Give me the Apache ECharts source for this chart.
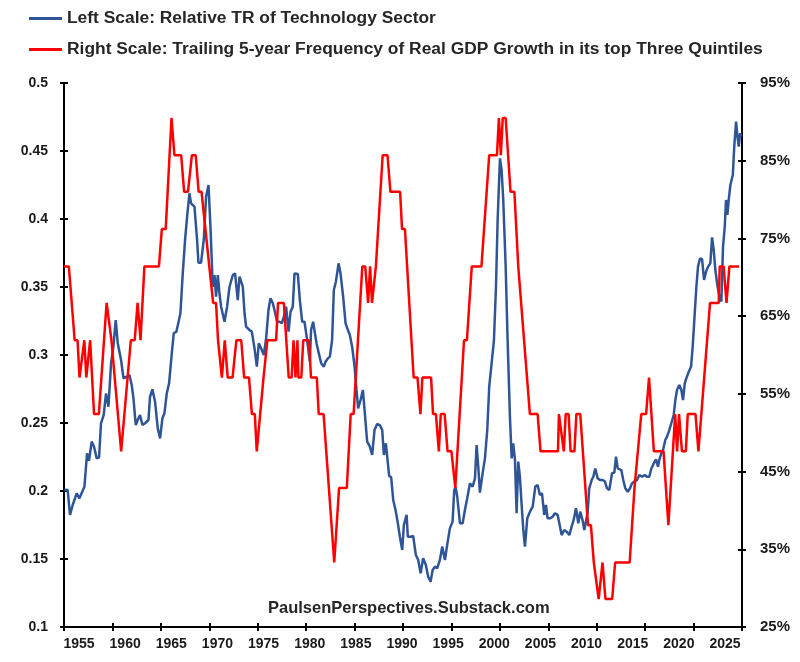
<!DOCTYPE html>
<html>
<head>
<meta charset="utf-8">
<script src="https://cdn.jsdelivr.net/npm/echarts@6/dist/echarts.min.js"></script>
<style>
html,body{margin:0;padding:0;background:#fff;}
#chart{width:800px;height:662px;}
</style>
</head>
<body>
<div id="chart"></div>
<script>
// ---- Data ----
const techName = 'Left Scale: Relative TR of Technology Sector';
const gdpName = 'Right Scale: Trailing 5-year Frequency of Real GDP Growth in its top Three Quintiles';
const watermark = 'PaulsenPerspectives.Substack.com';

const yearTicks = [1955, 2025, 5];        // x axis min, max, step
const leftTicks = [0.1, 0.5, 0.05];       // left axis min, max, step
const rightTicks = [25, 95, 10];          // right axis min, max, step (%)

const techYears = [
1955.03,1955.38,1955.62,1955.90,1956.31,1956.59,1957.11,1957.38,1957.58,1957.86,
1958.10,1958.38,1958.62,1958.82,1959.10,1959.34,1959.59,1959.86,1960.10,1960.34,
1960.55,1960.89,1961.14,1961.48,1961.76,1961.99,1962.17,1962.41,1962.61,1962.85,
1963.10,1963.37,1963.72,1963.88,1964.13,1964.40,1964.68,1964.92,1965.16,1965.37,
1965.61,1965.85,1966.13,1966.33,1966.61,1966.75,1967.02,1967.26,1967.50,1967.71,
1967.95,1968.12,1968.29,1968.47,1968.74,1968.88,1969.15,1969.43,1969.67,1969.92,
1970.12,1970.36,1970.54,1970.70,1970.88,1971.05,1971.22,1971.57,1971.84,1972.09,
1972.43,1972.66,1972.94,1973.12,1973.28,1973.46,1973.64,1973.80,1974.15,1974.39,
1974.67,1974.91,1975.11,1975.35,1975.63,1975.87,1976.11,1976.32,1976.56,1976.73,
1977.00,1977.25,1977.49,1977.70,1977.93,1978.18,1978.39,1978.62,1978.80,1979.14,
1979.35,1979.59,1979.83,1980.10,1980.38,1980.51,1980.72,1980.87,1981.07,1981.31,
1981.55,1981.83,1982.00,1982.24,1982.45,1982.68,1982.86,1983.07,1983.35,1983.55,
1983.82,1984.07,1984.31,1984.51,1984.75,1985.00,1985.20,1985.37,1985.62,1985.86,
1986.06,1986.30,1986.58,1986.82,1987.06,1987.33,1987.61,1987.85,1988.03,1988.23,
1988.37,1988.57,1988.78,1988.99,1989.23,1989.47,1989.68,1989.92,1990.09,1990.37,
1990.50,1990.78,1991.05,1991.33,1991.57,1991.82,1992.08,1992.36,1992.60,1992.85,
1993.06,1993.30,1993.53,1993.81,1994.05,1994.33,1994.56,1994.84,1995.12,1995.29,
1995.43,1995.60,1995.88,1996.16,1996.39,1996.63,1996.91,1997.19,1997.43,1997.60,
1997.77,1997.94,1998.22,1998.46,1998.70,1998.90,1999.15,1999.39,1999.60,1999.77,
2000.01,2000.18,2000.35,2000.60,2000.80,2001.04,2001.22,2001.38,2001.56,2001.73,
2001.90,2002.07,2002.25,2002.41,2002.59,2002.83,2003.11,2003.39,2003.66,2003.90,
2004.14,2004.35,2004.58,2004.76,2004.93,2005.17,2005.45,2005.69,2005.97,2006.13,
2006.38,2006.65,2006.90,2007.17,2007.41,2007.62,2007.86,2008.10,2008.30,2008.55,
2008.72,2008.89,2009.07,2009.23,2009.48,2009.65,2009.85,2010.10,2010.34,2010.62,
2010.85,2011.06,2011.30,2011.58,2011.82,2011.99,2012.17,2012.33,2012.54,2012.74,
2012.95,2013.20,2013.44,2013.64,2013.88,2014.16,2014.40,2014.68,2014.96,2015.19,
2015.43,2015.64,2015.89,2016.12,2016.33,2016.46,2016.67,2016.85,2017.08,2017.26,
2017.50,2017.70,2017.95,2018.12,2018.29,2018.53,2018.74,2018.91,2019.09,2019.25,
2019.50,2019.74,2019.91,2020.12,2020.29,2020.46,2020.67,2020.88,2021.08,2021.29,
2021.50,2021.73,2021.91,2022.08,2022.25,2022.45,2022.66,2022.87,2023.04,2023.22,
2023.35,2023.49,2023.63,2023.80,2024.05,2024.21,2024.39,2024.53,2024.67,2024.80,
2024.93];

const techTR = [
0.201,0.2007,0.1824,0.1897,0.1983,0.1946,0.2032,0.2277,0.2221,0.2363,
0.2326,0.224,0.2248,0.2498,0.2559,0.2718,0.262,0.2939,0.3061,0.3257,
0.3086,0.2963,0.2829,0.284,0.2853,0.278,0.2682,0.2485,0.2522,0.2559,
0.2485,0.2498,0.2522,0.2693,0.2748,0.2657,0.2461,0.2387,0.2535,0.2571,
0.2718,0.2792,0.3013,0.316,0.3172,0.3184,0.3307,0.36,0.3846,0.4017,
0.4189,0.4115,0.4127,0.4091,0.3846,0.3679,0.3679,0.3846,0.4164,0.425,
0.3944,0.3502,0.3588,0.3429,0.3588,0.3454,0.3355,0.3245,0.3355,0.3502,
0.3588,0.36,0.3404,0.3576,0.3581,0.3502,0.3307,0.3208,0.3184,0.3172,
0.3049,0.2914,0.3086,0.3049,0.3,0.3123,0.3331,0.3417,0.338,0.3331,
0.3245,0.3245,0.3233,0.3282,0.3355,0.3172,0.3319,0.3355,0.36,0.3596,
0.3404,0.3245,0.3245,0.311,0.2951,0.3184,0.3245,0.3245,0.3086,0.3012,
0.2939,0.2914,0.2951,0.2975,0.2988,0.311,0.3478,0.3539,0.3674,0.36,
0.3429,0.3233,0.3184,0.3147,0.3061,0.2914,0.2743,0.2608,0.2669,0.2743,
0.2571,0.2363,0.2326,0.2265,0.2449,0.2493,0.2485,0.2449,0.2265,0.2351,
0.2253,0.2111,0.2101,0.1934,0.186,0.1762,0.1664,0.1566,0.175,0.1824,
0.1664,0.1664,0.1669,0.1529,0.1493,0.1395,0.1505,0.1456,0.137,0.1333,
0.1419,0.1444,0.1432,0.1493,0.1591,0.1493,0.1603,0.1725,0.1775,0.2007,
0.2027,0.1958,0.1762,0.1762,0.186,0.1946,0.2056,0.2032,0.2093,0.2338,
0.2179,0.1988,0.213,0.224,0.2449,0.2767,0.2939,0.311,0.3502,0.3993,
0.4446,0.436,0.414,0.365,0.311,0.2547,0.224,0.235,0.2228,0.1836,
0.2216,0.2105,0.1897,0.1725,0.1591,0.1799,0.1848,0.1885,0.2032,0.2044,
0.1971,0.1983,0.1824,0.1897,0.1799,0.1799,0.1811,0.1836,0.1824,0.1811,
0.1676,0.1713,0.1701,0.1676,0.1738,0.1787,0.1873,0.1762,0.1848,0.1782,
0.1713,0.1775,0.1848,0.202,0.2081,0.2105,0.2166,0.2093,0.2081,0.2081,
0.2069,0.202,0.2007,0.213,0.2135,0.2253,0.2166,0.2166,0.2154,0.2081,
0.202,0.1995,0.202,0.2056,0.2069,0.2081,0.2118,0.2105,0.2118,0.2105,
0.2105,0.2166,0.2203,0.2233,0.2179,0.2228,0.2277,0.2302,0.2375,0.24,
0.2449,0.2498,0.2559,0.2669,0.2743,0.278,0.2743,0.2669,0.2792,0.2828,
0.2877,0.2914,0.3061,0.3306,0.3502,0.365,0.3711,0.3704,0.3552,0.3613,
0.365,0.3674,0.3865,0.3772,0.3625,0.3515,0.343,0.3393,0.3797,0.3944,
0.414,0.403,0.414,0.425,0.4324,0.4544,0.4716,0.4606,0.4532,0.463,
0.4606];

const gdpYears = [
1955.0,1955.5,1956.1,1956.4,1956.6,1956.8,1957.1,1957.3,1957.7,1958.1,1958.6,
1959.4,1959.6,1959.9,1960.9,1961.9,1962.3,1962.6,1962.9,1963.3,1964.8,
1965.1,1965.5,1966.1,1966.4,1967.1,1967.4,1967.8,1968.2,1968.6,1968.9,
1969.2,1969.6,1970.0,1970.1,1970.4,1970.7,1970.9,1971.1,1971.3,1971.6,
1971.9,1972.4,1972.8,1973.3,1973.6,1974.1,1974.4,1974.7,1974.9,1975.1,
1975.6,1975.8,1976.0,1976.9,1977.1,1977.7,1978.2,1978.5,1978.7,1978.9,
1979.1,1979.2,1979.5,1979.7,1980.3,1980.5,1981.1,1981.3,1981.8,1982.9,
1983.4,1984.2,1984.6,1984.9,1985.8,1986.1,1986.4,1986.6,1986.8,1987.2,
1987.9,1988.4,1988.7,1989.7,1989.9,1990.2,1991.1,1991.5,1991.8,1992.0,
1992.9,1993.1,1993.4,1993.7,1993.9,1994.3,1994.6,1995.0,1995.4,1996.3,
1996.6,1997.1,1998.1,1998.9,1999.7,1999.9,2000.1,2000.3,2000.6,2001.1,
2001.5,2001.9,2002.1,2003.1,2003.9,2004.2,2006.0,2006.1,2006.6,2006.8,
2007.1,2007.3,2007.7,2007.9,2008.3,2009.1,2009.4,2009.7,2009.9,2010.2,
2010.6,2010.9,2011.6,2011.9,2013.4,2013.9,2014.1,2014.6,2015.1,2015.4,
2015.9,2016.9,2017.4,2018.1,2018.3,2018.5,2018.8,2019.2,2019.4,2020.2,
2020.5,2020.7,2021.7,2022.6,2022.7,2023.1,2023.4,2023.7,2024.7];

const gdpFreq = [
71.4,71.4,61.9,61.9,57.1,57.1,61.9,57.1,61.9,52.4,52.4,
66.7,66.7,61.9,47.6,61.9,61.9,66.7,61.9,71.4,71.4,
76.2,76.2,90.5,85.7,85.7,81.0,81.0,85.7,85.7,81.0,
81.0,76.2,71.4,71.4,66.7,66.7,61.9,61.9,57.1,61.9,
57.1,57.1,61.9,61.9,57.1,57.1,52.4,52.4,47.6,47.6,
57.1,57.1,61.9,61.9,66.7,66.7,57.1,57.1,61.9,57.1,
61.9,57.1,57.1,61.9,61.9,57.1,57.1,52.4,52.4,33.3,
42.9,42.9,52.4,52.4,71.4,71.4,66.7,71.4,66.7,71.4,
85.7,85.7,81.0,81.0,76.2,76.2,57.1,57.1,52.4,57.1,
57.1,52.4,52.4,47.6,52.4,52.4,47.6,47.6,42.9,61.9,
61.9,71.4,71.4,85.7,85.7,90.5,85.7,90.5,90.5,81.0,
81.0,71.4,71.4,52.4,52.4,47.6,47.6,52.4,47.6,52.4,
52.4,47.6,47.6,52.4,52.4,38.1,38.1,33.3,33.3,28.6,
33.3,28.6,28.6,33.3,33.3,42.9,42.9,52.4,52.4,57.1,
47.6,47.6,38.1,52.4,47.6,52.4,47.6,47.6,52.4,52.4,
47.6,47.6,66.7,66.7,71.4,71.4,66.7,71.4,71.4];

// ---- Build chart ----
const FONT = 'Liberation Sans';
const txt = {fontFamily: FONT, fontWeight: 'bold', fontSize: 14, color: '#1a1a1a'};
const legendTxt = {fontFamily: FONT, fontWeight: 'bold', fontSize: 17.4, color: '#262626'};
const techData = techYears.map((y, i) => [y, techTR[i]]);
const gdpData = gdpYears.map((y, i) => [y, gdpFreq[i]]);

const chart = echarts.init(document.getElementById('chart'), null, {renderer: 'canvas'});
const axLine = {show: true, lineStyle: {color: '#000', width: 2}};
const tickOut = {show: true, inside: false, length: 4, lineStyle: {color: '#000', width: 2}};
const tickIn = {show: true, inside: true, length: 4, lineStyle: {color: '#000', width: 2}};

chart.setOption({
  animation: false,
  backgroundColor: '#fff',
  textStyle: {fontFamily: FONT},
  legend: [
    {data: [techName], left: 29, top: 10, padding: 0, icon: 'rect', itemWidth: 33, itemHeight: 3,
     itemGap: 0, itemStyle: {borderWidth: 0}, textStyle: legendTxt},
    {data: [gdpName], left: 29, top: 41, padding: 0, icon: 'rect', itemWidth: 33, itemHeight: 3,
     itemGap: 0, itemStyle: {borderWidth: 0}, textStyle: legendTxt}
  ],
  grid: [
    {left: 64, right: 58, top: 83, bottom: 35, containLabel: false},
    {left: 79, right: 75, top: 83, bottom: 35, containLabel: false}
  ],
  xAxis: [
    {gridIndex: 0, type: 'value', position: 'bottom', min: yearTicks[0], max: yearTicks[1], interval: yearTicks[2],
     axisLine: axLine, axisTick: tickOut, axisLabel: {show: false}, splitLine: {show: false}},
    {gridIndex: 0, type: 'value', position: 'bottom', min: yearTicks[0], max: yearTicks[1], interval: yearTicks[2],
     axisLine: {show: false}, axisTick: tickIn, axisLabel: {show: false}, splitLine: {show: false}},
    {gridIndex: 1, type: 'value', position: 'bottom', min: yearTicks[0], max: yearTicks[1], interval: yearTicks[2],
     axisLine: {show: false}, axisTick: {show: false}, splitLine: {show: false},
     axisLabel: Object.assign({}, txt, {margin: 10, formatter: v => String(v)})}
  ],
  yAxis: [
    {gridIndex: 0, type: 'value', position: 'left', min: leftTicks[0], max: leftTicks[1], interval: leftTicks[2],
     axisLine: axLine, axisTick: tickOut, splitLine: {show: false},
     axisLabel: Object.assign({}, txt, {margin: 16, formatter: v => String(+v.toFixed(2))})},
    {gridIndex: 0, type: 'value', position: 'right', min: rightTicks[0], max: rightTicks[1], interval: rightTicks[2],
     axisLine: axLine, axisTick: tickOut, splitLine: {show: false},
     axisLabel: Object.assign({}, txt, {fontSize: 15, margin: 18, formatter: '{value}%'})},
    {gridIndex: 0, type: 'value', position: 'left', min: leftTicks[0], max: leftTicks[1], interval: leftTicks[2],
     axisLine: {show: false}, axisTick: tickIn, axisLabel: {show: false}, splitLine: {show: false}},
    {gridIndex: 0, type: 'value', position: 'right', min: rightTicks[0], max: rightTicks[1], interval: rightTicks[2],
     axisLine: {show: false}, axisTick: tickIn, axisLabel: {show: false}, splitLine: {show: false}},
    {gridIndex: 1, type: 'value', show: false, min: 0, max: 1}
  ],
  graphic: [
    {type: 'text', left: 268, top: 600, style: {text: watermark, font: 'bold 16.5px ' + FONT, fill: '#262626'}}
  ],
  series: [
    {name: techName, type: 'line', xAxisIndex: 0, yAxisIndex: 0, data: techData,
     symbol: 'none', lineStyle: {color: '#2F5597', width: 2.5}, itemStyle: {color: '#2F5597'}},
    {name: gdpName, type: 'line', xAxisIndex: 0, yAxisIndex: 1, data: gdpData,
     symbol: 'none', lineStyle: {color: '#FF0000', width: 2.5}, itemStyle: {color: '#FF0000'}}
  ]
});
</script>
</body>
</html>
